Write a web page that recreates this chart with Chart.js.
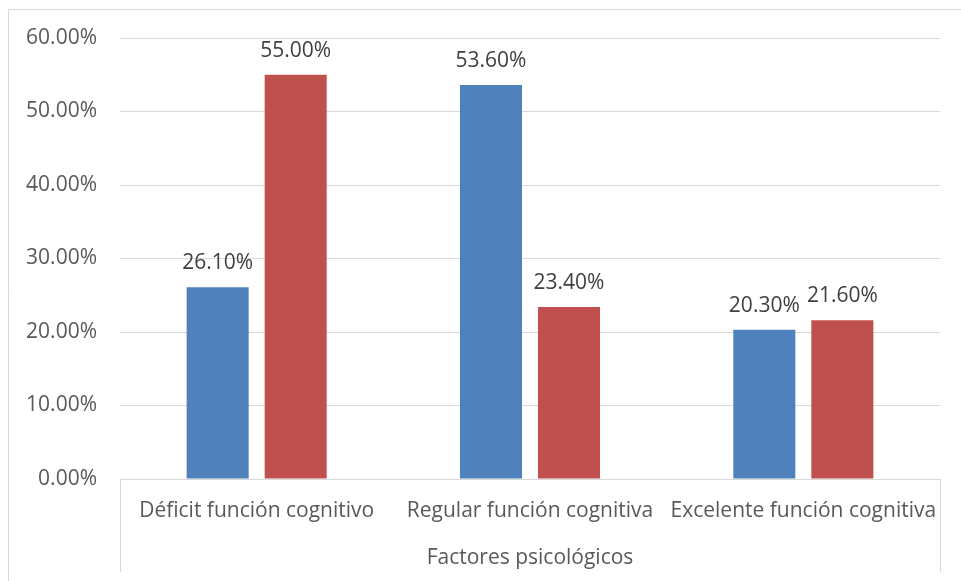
<!DOCTYPE html>
<html>
<head>
<meta charset="utf-8">
<script src="https://cdn.jsdelivr.net/npm/chart.js@4/dist/chart.umd.min.js"></script>
<style>
  html, body { margin: 0; padding: 0; background: #fff; }
  #wrap { width: 961px; height: 581px; position: relative; }
</style>
</head>
<body>
<div id="wrap"><canvas id="barChart"></canvas></div>
<script>
const categories = ['Déficit función cognitivo', 'Regular función cognitiva', 'Excelente función cognitiva'];
const serieAzul = [26.1, 53.6, 20.3];
const serieRoja = [55.0, 23.4, 21.6];
const axisTitle = 'Factores psicológicos';

const FONT = "'Open Sans', sans-serif";
const GRID = '#d9d9d9';

// etiquetas encima de cada barra
const valueLabels = {
  id: 'valueLabels',
  afterDatasetsDraw(chart) {
    const ctx = chart.ctx;
    ctx.save();
    ctx.font = '21px ' + FONT;
    ctx.fillStyle = '#404040';
    ctx.textAlign = 'center';
    ctx.textBaseline = 'middle';
    chart.data.datasets.forEach((ds, i) => {
      chart.getDatasetMeta(i).data.forEach((bar, j) => {
        ctx.fillText(ds.data[j].toFixed(2) + '%', bar.x, bar.y - 24);
      });
    });
    ctx.restore();
  }
};

// marco exterior y caja del eje de categorias
const frame = {
  id: 'frame',
  afterDraw(chart) {
    const ctx = chart.ctx;
    const a = chart.chartArea;
    ctx.save();
    ctx.strokeStyle = GRID;
    ctx.lineWidth = 1;
    ctx.beginPath();
    ctx.moveTo(8.5, chart.height);
    ctx.lineTo(8.5, 9.5);
    ctx.lineTo(chart.width, 9.5);
    ctx.moveTo(Math.round(a.left) + 0.5, a.bottom);
    ctx.lineTo(Math.round(a.left) + 0.5, 572);
    ctx.moveTo(Math.round(a.right) + 0.5, a.bottom);
    ctx.lineTo(Math.round(a.right) + 0.5, 572);
    ctx.stroke();
    ctx.restore();
  }
};

new Chart(document.getElementById('barChart'), {
  type: 'bar',
  data: {
    labels: categories,
    datasets: [
      { data: serieAzul, backgroundColor: '#4f81bd', categoryPercentage: 0.571, barPercentage: 0.795 },
      { data: serieRoja, backgroundColor: '#c0504d', categoryPercentage: 0.571, barPercentage: 0.795 }
    ]
  },
  options: {
    responsive: true,
    maintainAspectRatio: false,
    animation: false,
    layout: { padding: { top: 38, right: 21, left: 0, bottom: 0 } },
    plugins: {
      legend: { display: false },
      tooltip: { enabled: false }
    },
    scales: {
      x: {
        grid: { display: false },
        border: { display: false },
        ticks: { color: '#595959', font: { family: FONT, size: 21 }, padding: 11, maxRotation: 0, autoSkip: false },
        title: { display: true, text: axisTitle, color: '#595959', font: { family: FONT, size: 21 }, padding: { top: 0, bottom: 10 } },
        afterFit(scale) { scale.height = 102; }
      },
      y: {
        min: 0,
        max: 60,
        ticks: {
          stepSize: 10,
          color: '#595959',
          font: { family: FONT, size: 21 },
          padding: 23,
          callback: v => v.toFixed(2) + '%'
        },
        grid: { color: GRID, drawTicks: false },
        border: { display: false },
        afterFit(scale) { scale.width = 120; }
      }
    }
  },
  plugins: [valueLabels, frame]
});
</script>
</body>
</html>
